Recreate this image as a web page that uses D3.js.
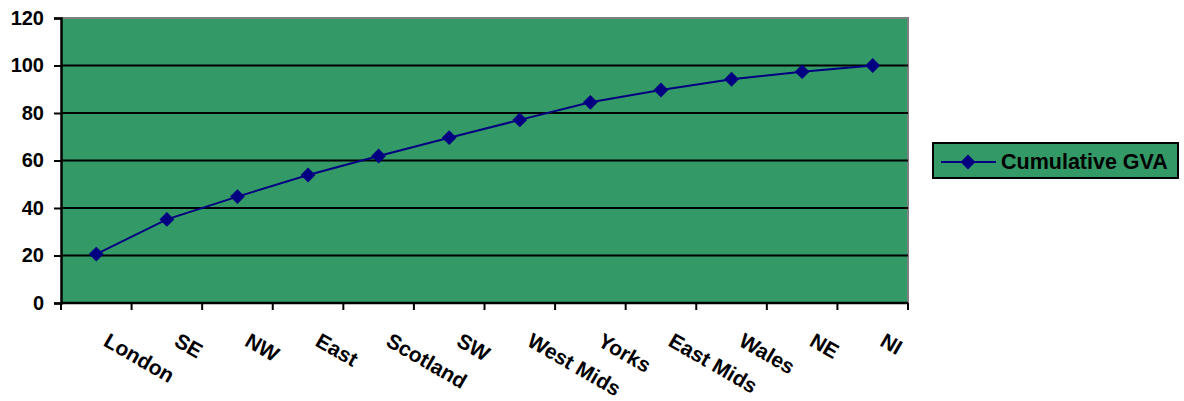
<!DOCTYPE html>
<html>
<head>
<meta charset="utf-8">
<script src="https://cdn.jsdelivr.net/npm/d3@7"></script>
<style>
  body { margin: 0; background: #ffffff; }
  svg { display: block; font-family: Arial, "Liberation Sans", sans-serif; }
</style>
</head>
<body>
<svg id="chart" width="1184" height="401"></svg>
<script>
// Cumulative share of GVA by region
const regions = ["London", "SE", "NW", "East", "Scotland", "SW", "West Mids", "Yorks", "East Mids", "Wales", "NE", "NI"];
const cumulativeGVA = [20.6, 35.2, 44.8, 53.9, 61.9, 69.6, 77.1, 84.5, 89.7, 94.2, 97.4, 100];
const yTicks = [0, 20, 40, 60, 80, 100, 120];
const seriesName = "Cumulative GVA";

const svg = d3.select("#chart");
const plot = { left: 61, right: 908, top: 18, bottom: 303 };
const green = "#339966";
const navy = "#000080";
const fontFamily = "Arial, 'Liberation Sans', sans-serif";

const x = d3.scaleBand().domain(regions).range([plot.left, plot.right]);
const y = d3.scaleLinear().domain([0, 120]).range([plot.bottom, plot.top]);

// plot background
svg.append("rect")
  .attr("x", plot.left).attr("y", plot.top)
  .attr("width", plot.right - plot.left).attr("height", plot.bottom - plot.top)
  .attr("fill", green);

// gray frame on top and right
svg.append("path")
  .attr("d", `M${plot.left},${plot.top}H${plot.right}V${plot.bottom}`)
  .attr("fill", "none").attr("stroke", "#808080").attr("stroke-width", 2);

// horizontal gridlines
svg.append("g").selectAll("line")
  .data(yTicks.filter(d => d > 0 && d < 120))
  .join("line")
  .attr("x1", plot.left).attr("x2", plot.right)
  .attr("y1", d => y(d)).attr("y2", d => y(d))
  .attr("stroke", "#000").attr("stroke-width", 2);

// y axis
const yAxis = svg.append("g")
  .attr("transform", `translate(${plot.left},0)`)
  .call(d3.axisLeft(y).tickValues(yTicks).tickSize(7).tickPadding(10));
yAxis.select(".domain").attr("stroke", "#000").attr("stroke-width", 2.5);
yAxis.selectAll(".tick line").attr("stroke", "#000").attr("stroke-width", 2);
yAxis.selectAll(".tick text")
  .attr("font-size", 20).attr("font-weight", "bold").attr("fill", "#000")
  .attr("font-family", fontFamily);

// x axis baseline with category boundary ticks
const bounds = regions.map(r => x(r)).concat([plot.right]);
svg.append("line")
  .attr("x1", plot.left).attr("x2", plot.right)
  .attr("y1", plot.bottom).attr("y2", plot.bottom)
  .attr("stroke", "#000").attr("stroke-width", 2.5);
svg.append("g").selectAll("line").data(bounds).join("line")
  .attr("x1", d => d).attr("x2", d => d)
  .attr("y1", plot.bottom).attr("y2", plot.bottom + 7)
  .attr("stroke", "#000").attr("stroke-width", 2);

// rotated category labels
svg.append("g").selectAll("text").data(regions).join("text")
  .attr("transform", d => `translate(${x(d) + x.bandwidth() / 2 + 6},${plot.bottom + 42}) rotate(30)`)
  .attr("text-anchor", "start")
  .attr("font-size", 21).attr("font-weight", "bold").attr("fill", "#000")
  .text(d => d);

// series line
const cx = d => x(d) + x.bandwidth() / 2;
const data = regions.map((r, i) => ({ r, v: cumulativeGVA[i] }));
svg.append("path")
  .datum(data)
  .attr("d", d3.line().x(d => cx(d.r)).y(d => y(d.v)))
  .attr("fill", "none").attr("stroke", navy).attr("stroke-width", 2);

// diamond markers
const diamond = d3.symbol().type(d3.symbolSquare).size(110);
svg.append("g").selectAll("path").data(data).join("path")
  .attr("d", diamond)
  .attr("transform", d => `translate(${cx(d.r)},${y(d.v)}) rotate(45)`)
  .attr("fill", navy);

// legend
const lg = svg.append("g").attr("transform", "translate(933,143)");
lg.append("rect").attr("width", 245).attr("height", 35)
  .attr("fill", green).attr("stroke", "#000").attr("stroke-width", 2);
lg.append("line").attr("x1", 8).attr("x2", 63).attr("y1", 19).attr("y2", 19)
  .attr("stroke", navy).attr("stroke-width", 2);
lg.append("path").attr("d", diamond)
  .attr("transform", "translate(35,19) rotate(45)").attr("fill", navy);
lg.append("text").attr("x", 68).attr("y", 25.5)
  .attr("font-size", 21.5).attr("font-weight", "bold").attr("fill", "#000")
  .text(seriesName);
</script>
</body>
</html>
